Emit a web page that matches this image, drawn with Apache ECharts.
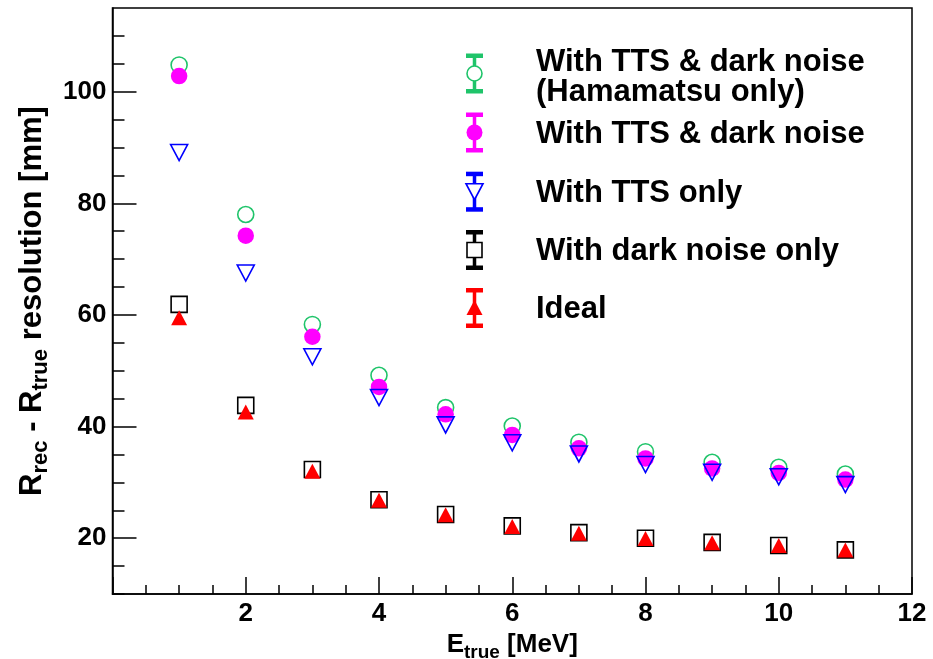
<!DOCTYPE html>
<html><head><meta charset="utf-8">
<script src="https://cdn.jsdelivr.net/npm/echarts@6/dist/echarts.min.js"></script>
<style>html,body{margin:0;padding:0;background:#fff}#c{width:933px;height:659px}</style>
</head><body><div id="c"></div>
<script>
const energies = [1, 2, 3, 4, 5, 6, 7, 8, 9, 10, 11];
const hamamatsu = [104.8, 78.0, 58.3, 49.2, 43.4, 40.1, 37.2, 35.5, 33.6, 32.7, 31.5];
const ttsDark = [102.8, 74.2, 56.1, 47.1, 42.2, 38.5, 36.1, 34.3, 32.5, 31.7, 30.5];
const ttsOnly = [89.1, 67.5, 52.5, 45.2, 40.3, 37.1, 35.1, 33.2, 31.8, 31.0, 29.6];
const darkOnly = [61.9, 43.8, 32.3, 26.9, 24.25, 22.2, 21.0, 20.0, 19.25, 18.7, 17.9];
const ideal = [59.5, 42.6, 32.0, 26.8, 24.2, 22.1, 20.9, 19.95, 19.2, 18.7, 17.9];
const seriesNames = ['With TTS & dark noise (Hamamatsu only)', 'With TTS & dark noise', 'With TTS only', 'With dark noise only', 'Ideal'];
const legendLines = [['With TTS & dark noise', '(Hamamatsu only)'], ['With TTS & dark noise'], ['With TTS only'], ['With dark noise only'], ['Ideal']];
const yMajorTicks = [20, 40, 60, 80, 100];
const yMinorTicks = [10, 15, 25, 30, 35, 45, 50, 55, 65, 70, 75, 85, 90, 95, 105, 110];

const FONT = '"Liberation Sans", Arial, Helvetica, sans-serif';
const GREEN = '#1fc46a', MAGENTA = '#ff00ff', BLUE = '#0000ff', BLACK = '#000000', RED = '#ff0000';
const TRI_DOWN = 'path://M0,0L20,0L10,18Z';
const TRI_UP = 'path://M10,0L20,18L0,18Z';

function pts(vals) { return energies.map((e, i) => [e, vals[i]]); }

const open = (c) => ({ color: 'rgba(255,255,255,0)', borderColor: c, borderWidth: 1.6, opacity: 1 });

const series = [
  { name: seriesNames[0], type: 'scatter', data: pts(hamamatsu), symbol: 'circle', symbolSize: 16, itemStyle: open(GREEN) },
  { name: seriesNames[1], type: 'scatter', data: pts(ttsDark), symbol: 'circle', symbolSize: 16.5, itemStyle: { color: MAGENTA, opacity: 1 } },
  { name: seriesNames[2], type: 'scatter', data: pts(ttsOnly), symbol: TRI_DOWN, symbolSize: [17, 16], itemStyle: open(BLUE) },
  { name: seriesNames[3], type: 'scatter', data: pts(darkOnly), symbol: 'rect', symbolSize: 16, itemStyle: open(BLACK) },
  { name: seriesNames[4], type: 'scatter', data: pts(ideal), symbol: TRI_UP, symbolSize: [16, 15], itemStyle: { color: RED, opacity: 1 } }
];
series.forEach(s => { s.emphasis = { disabled: true }; s.animation = false; });

// legend (drawn as graphic: error-bar icon + marker + text)
const legendColors = [GREEN, MAGENTA, BLUE, BLACK, RED];
const legendCenters = [73.5, 132.5, 191.7, 250, 308];
const legendTextY = [[62, 92], [134], [193.5], [251.5], [309]];
const iconX = 474.5, textX = 536;
const graphics = [];
legendColors.forEach((c, i) => {
  const cy = legendCenters[i];
  const ch = [];
  ch.push({ type: 'line', shape: { x1: iconX, y1: cy - 19, x2: iconX, y2: cy + 19 }, style: { stroke: c, lineWidth: 3.5 } });
  ch.push({ type: 'rect', shape: { x: iconX - 8.5, y: cy - 20, width: 17, height: 4.5 }, style: { fill: c } });
  ch.push({ type: 'rect', shape: { x: iconX - 8.5, y: cy + 15.5, width: 17, height: 4.5 }, style: { fill: c } });
  if (i === 0) ch.push({ type: 'circle', shape: { cx: iconX, cy: cy, r: 7.5 }, style: { fill: '#fff', stroke: c, lineWidth: 1.6 } });
  if (i === 1) ch.push({ type: 'circle', shape: { cx: iconX, cy: cy, r: 8 }, style: { fill: c } });
  if (i === 2) ch.push({ type: 'polygon', shape: { points: [[iconX - 8.5, cy - 8], [iconX + 8.5, cy - 8], [iconX, cy + 8]] }, style: { fill: '#fff', stroke: c, lineWidth: 1.6 } });
  if (i === 3) ch.push({ type: 'rect', shape: { x: iconX - 7.5, y: cy - 7.5, width: 15, height: 15 }, style: { fill: '#fff', stroke: c, lineWidth: 1.6 } });
  if (i === 4) ch.push({ type: 'polygon', shape: { points: [[iconX, cy - 8], [iconX + 8, cy + 7], [iconX - 8, cy + 7]] }, style: { fill: c } });
  legendLines[i].forEach((t, k) => {
    ch.push({ type: 'text', x: textX, y: legendTextY[i][k], style: { text: t, font: 'bold 31px ' + FONT, fill: '#000', verticalAlign: 'middle', align: 'left' } });
  });
  graphics.push({ type: 'group', children: ch });
});

const richX = {
  m: { fontSize: 26, fontWeight: 'bold', fontFamily: FONT, color: '#000' },
  s: { fontSize: 19, fontWeight: 'bold', fontFamily: FONT, color: '#000', padding: [15, 0, 0, 0], verticalAlign: 'bottom' }
};
const richY = {
  m: { fontSize: 31, fontWeight: 'bold', fontFamily: FONT, color: '#000' },
  s: { fontSize: 22, fontWeight: 'bold', fontFamily: FONT, color: '#000', padding: [17, 0, 0, 0], verticalAlign: 'bottom' }
};

const axisCommon = {
  axisLine: { show: true, onZero: false, lineStyle: { color: '#000', width: 1.5 } },
  splitLine: { show: false }
};

const option = {
  animation: false,
  backgroundColor: '#fff',
  grid: { left: 112.5, right: 21, top: 8, bottom: 65, containLabel: false, outerBoundsMode: 'none', show: true, borderColor: '#000', borderWidth: 1.5, backgroundColor: 'transparent' },
  xAxis: Object.assign({
    type: 'value', min: 0, max: 12, interval: 2,
    axisTick: { show: true, inside: true, length: 17, lineStyle: { color: '#000', width: 1.5 } },
    minorTick: { show: true, splitNumber: 4, length: 9, lineStyle: { color: '#000', width: 1.5 } },
    minorSplitLine: { show: false },
    axisLabel: { fontSize: 26, fontWeight: 'bold', fontFamily: FONT, color: '#000', margin: 7, showMinLabel: false, showMaxLabel: true },
    name: '{m|E}{s|true}{m| [MeV]}', nameLocation: 'middle', nameGap: 32,
    nameTextStyle: { rich: richX }
  }, axisCommon),
  yAxis: [
    Object.assign({
      type: 'value', min: 10, max: 115, position: 'left',
      axisTick: { show: true, inside: true, length: 24, customValues: yMajorTicks, lineStyle: { color: '#000', width: 1.5 } },
      axisLabel: { fontSize: 26, fontWeight: 'bold', fontFamily: FONT, color: '#000', margin: 6, customValues: yMajorTicks },
      name: '{m|R}{s|rec}{m| - R}{s|true}{m| resolution [mm]}', nameLocation: 'middle', nameRotate: 90, nameGap: 57,
      nameTextStyle: { rich: richY }
    }, axisCommon),
    {
      type: 'value', min: 10, max: 115, position: 'left', offset: 0,
      axisLine: { show: false }, splitLine: { show: false },
      axisTick: { show: true, inside: true, length: 12, customValues: yMinorTicks, lineStyle: { color: '#000', width: 1.5 } },
      axisLabel: { show: false }
    }
  ],
  series: series,
  graphic: graphics
};

const chart = echarts.init(document.getElementById('c'), null, { renderer: 'canvas' });
chart.setOption(option);
</script>
</body></html>
